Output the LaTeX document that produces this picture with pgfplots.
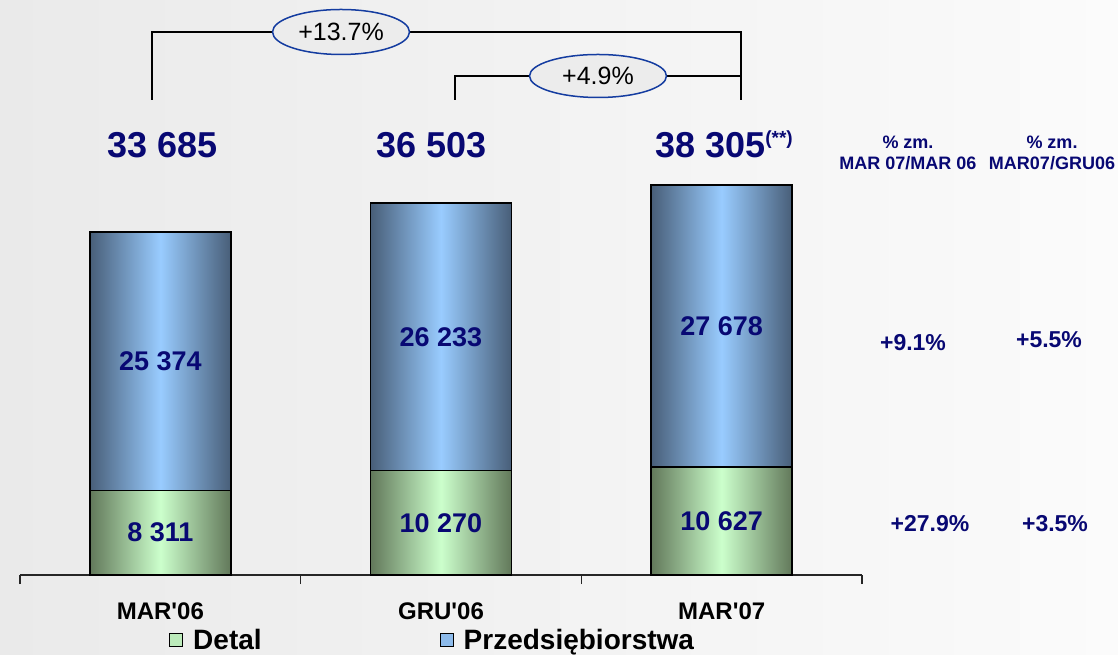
\documentclass[border=0pt]{standalone}
\usepackage{pgfplots}
\pgfplotsset{compat=1.18}
\usetikzlibrary{shapes.geometric}
\usepackage{fontspec}
\setmainfont{Liberation Sans}[Ligatures=TeXOff]
\definecolor{navy}{RGB}{8,8,115}
\definecolor{bdark}{RGB}{72,94,120}
\definecolor{blight}{RGB}{153,204,255}
\definecolor{gdark}{RGB}{98,120,90}
\definecolor{glight}{RGB}{204,255,204}
\definecolor{ellblue}{RGB}{20,60,160}
\definecolor{ellfill}{RGB}{236,236,236}
\definecolor{bgl}{RGB}{234,234,234}
\definecolor{bgr}{RGB}{251,251,251}
\tikzset{barlab/.style={font=\bfseries\fontsize{27}{29}\selectfont, text=navy},
  bbar/.style={draw=black, line width=1.6pt, left color=bdark, right color=bdark, middle color=blight},
  gbar/.style={draw=black, line width=1.6pt, left color=gdark, right color=gdark, middle color=glight}}
\begin{document}
\begin{tikzpicture}
\useasboundingbox (0,0) rectangle (1118pt,655pt);
\shade[left color=bgl, right color=bgr] (0,0) rectangle (1118pt,655pt);
\begin{axis}[
  at={(20pt,80pt)}, anchor=south west, scale only axis,
  width=842pt, height=575pt,
  xmin=-0.5, xmax=2.5, ymin=0, ymax=56465,
  axis x line*=bottom, axis y line=none, ytick=\empty,
  xtick={0,1,2}, xticklabels={MAR'06,GRU'06,MAR'07},
  minor xtick={-0.5,0.5,1.5,2.5},
  major tick length=0pt, minor tick length=9pt, tick align=outside,
  x axis line style={line width=1.2pt, black!85},
  minor tick style={line width=1.2pt, black!85},
  xticklabel style={font=\bfseries\fontsize{24}{26}\selectfont, anchor=center, yshift=-36pt},
  ybar, bar width=0.503, bar shift=0pt,
  clip=false,
  legend columns=2,
  legend style={at={(0.177,-0.113)}, anchor=west, draw=none, fill=none,
    font=\bfseries\fontsize{28}{30}\selectfont, inner sep=0pt,
    /tikz/every odd column/.append style={column sep=8pt},
    /tikz/every even column/.append style={column sep=176pt}},
  legend image code/.code={\draw[#1] (0pt,-6.5pt) rectangle (13pt,6.5pt);},
]
% totals (Detal + Przedsiebiorstwa), drawn first; Detal drawn over the bottom part
\addplot[bbar, forget plot] coordinates {(0,33685)};
\addplot[bbar, forget plot] coordinates {(1,36503)};
\addplot[bbar, forget plot] coordinates {(2,38305)};
\addplot[gbar, forget plot] coordinates {(0,8311)};
\addplot[gbar, forget plot] coordinates {(1,10270)};
\addplot[gbar, forget plot] coordinates {(2,10627)};
\addlegendimage{draw=black, line width=1pt, fill=glight!85!gdark}
\addlegendentry{Detal}
\addlegendimage{draw=black, line width=1pt, fill=blight!85!bdark}
\addlegendentry{Przedsiębiorstwa}
\coordinate (d0) at (axis cs:0,4155.5);
\coordinate (d1) at (axis cs:1,5135);
\coordinate (d2) at (axis cs:2,5313.5);
\coordinate (p0) at (axis cs:0,20998);
\coordinate (p1) at (axis cs:1,23386.5);
\coordinate (p2) at (axis cs:2,24466);
\end{axis}
\node[barlab] at (d0) {8 311};
\node[barlab] at (d1) {10 270};
\node[barlab] at (d2) {10 627};
\node[barlab] at (p0) {25 374};
\node[barlab] at (p1) {26 233};
\node[barlab] at (p2) {27 678};
\begin{scope}[x=1pt, y=-1pt, yshift=655pt]
\draw[line width=1.5pt] (152,100) -- (152,32) -- (741,32) -- (741,100);
\draw[line width=1.5pt] (455,100) -- (455,76) -- (741,76);
\node[ellipse, draw=ellblue, fill=ellfill, line width=1.5pt, minimum width=137pt, minimum height=45pt, inner sep=0pt, font=\fontsize{25}{28}\selectfont] at (341,32) {+13.7\%};
\node[ellipse, draw=ellblue, fill=ellfill, line width=1.5pt, minimum width=137pt, minimum height=43pt, inner sep=0pt, font=\fontsize{25}{28}\selectfont] at (598,76) {+4.9\%};
\begin{scope}[every node/.style={font=\bfseries\fontsize{36}{40}\selectfont, text=navy, inner sep=0pt}]
\node[anchor=base] at (163,158) {33 685};
\node[anchor=base] at (432,158) {36 503};
\node[anchor=base west] at (655,158) {38 305\raisebox{13pt}{\fontsize{19}{20}\selectfont(**)}};
\end{scope}
\begin{scope}[every node/.style={font=\bfseries\fontsize{18}{21}\selectfont, text=navy, align=center, inner sep=0pt}]
\node at (908,153) {\% zm.\\MAR 07/MAR 06};
\node at (1052,153) {\% zm.\\MAR07/GRU06};
\end{scope}
\begin{scope}[every node/.style={font=\bfseries\fontsize{23}{25}\selectfont, text=navy, inner sep=0pt}]
\node at (913,343) {+9.1\%};
\node at (1049,340) {+5.5\%};
\node at (930,524) {+27.9\%};
\node at (1055,524) {+3.5\%};
\end{scope}
\end{scope}
\end{tikzpicture}
\end{document}
